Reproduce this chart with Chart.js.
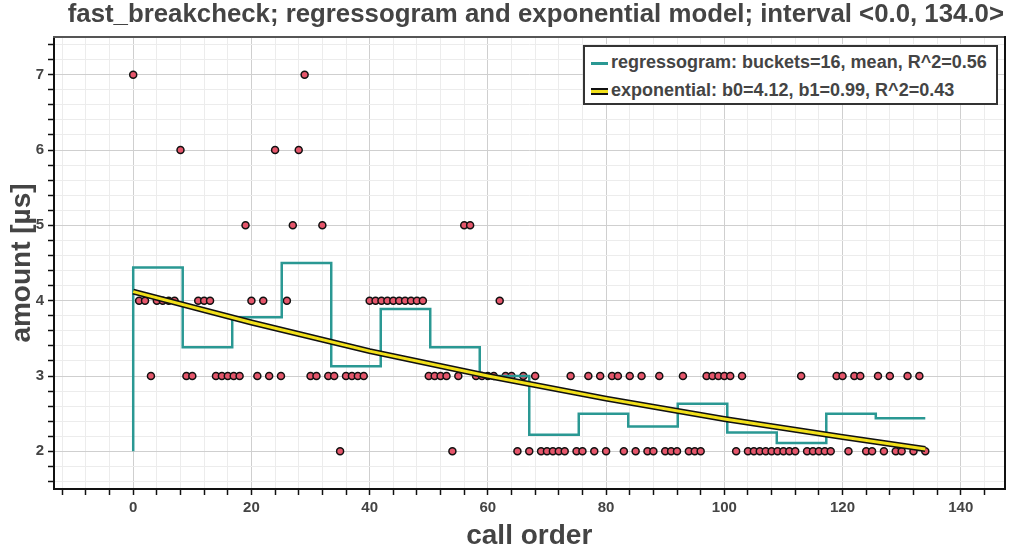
<!DOCTYPE html>
<html>
<head>
<meta charset="utf-8">
<script src="https://cdn.jsdelivr.net/npm/chart.js@4.4.1/dist/chart.umd.min.js"></script>
<style>
  body { margin: 0; background: #fff; }
  #wrap { position: relative; width: 1010px; height: 553px; font-family: "Liberation Sans", Arial, sans-serif; }
  #title { position: absolute; left: 0; width: 1010px; top: -1px; text-align: right; padding-right: 6px; box-sizing: border-box;
           font-size: 25.8px; font-weight: bold; color: #444; white-space: nowrap; }
  #legend { position: absolute; left: 583px; top: 45px; width: 415px; height: 60px; box-sizing: border-box;
            border: 2px solid #333; background: #fff; font-size: 18px; font-weight: bold; color: #444; }
  .row { position: absolute; left: 6px; height: 22px; line-height: 22px; white-space: nowrap; }
  .sw { display: inline-block; width: 17px; vertical-align: middle; margin-right: 3px; box-sizing: border-box; }
</style>
</head>
<body>
<div id="wrap">
  <canvas id="myChart" width="1010" height="553"></canvas>
  <div id="title">fast_breakcheck; regressogram and exponential model; interval &lt;0.0, 134.0&gt;</div>
  <div id="legend">
    <div class="row" style="top:4px"><span class="sw" style="height:3px;background:#2a9893"></span>regressogram: buckets=16, mean, R^2=0.56</div>
    <div class="row" style="top:32px"><span class="sw" style="height:7px;background:#f2e01a;border-top:2px solid #111;border-bottom:2px solid #111"></span>exponential: b0=4.12, b1=0.99, R^2=0.43</div>
  </div>
</div>
<script>
// measured amount for every call, call order = position in the list
let amounts = [
  7, 4, 4, 3, 4, 4, 4, 4, 6, 3,
  3, 4, 4, 4, 3, 3, 3, 3, 3, 5,
  4, 3, 4, 3, 6, 3, 4, 5, 6, 7,
  3, 3, 5, 3, 3, 2, 3, 3, 3, 3,
  4, 4, 4, 4, 4, 4, 4, 4, 4, 4,
  3, 3, 3, 3, 2, 3, 5, 5, 3, 3,
  3, 3, 4, 3, 3, 2, 3, 2, 3, 2,
  2, 2, 2, 2, 3, 2, 2, 3, 2, 3,
  2, 3, 3, 2, 3, 2, 3, 2, 2, 3,
  2, 2, 2, 3, 2, 2, 2, 3, 3, 3,
  3, 3, 2, 3, 2, 2, 2, 2, 2, 2,
  2, 2, 2, 3, 2, 2, 2, 2, 2, 3,
  3, 2, 3, 3, 2, 2, 3, 2, 3, 2,
  2, 3, 2, 3, 2
];

// regressogram: bucket edges and mean per bucket
let bucketEdges = [0, 8.375, 16.75, 25.125, 33.5, 41.875, 50.25, 58.625, 67, 75.375, 83.75, 92.125, 100.5, 108.875, 117.25, 125.625, 134];
let bucketMeans = [4.44, 3.38, 3.78, 4.5, 3.13, 3.89, 3.38, 3.0, 2.22, 2.5, 2.33, 2.63, 2.25, 2.11, 2.5, 2.44];
let regStart = 2;

// exponential model
let expX = [0, 20, 40, 60, 80, 100, 120, 134];
let expY = [4.12, 3.71, 3.33, 3.0, 2.7, 2.43, 2.19, 2.03];

let xTickLabels = [0, 20, 40, 60, 80, 100, 120, 140];
let yTickLabels = [2, 3, 4, 5, 6, 7];

let fontFam = '"Liberation Sans", Arial, sans-serif';

let points = amounts.map(function (v, i) { return {x: i, y: v}; });

let regData = [{x: bucketEdges[0], y: regStart}];
bucketMeans.forEach(function (m, i) { regData.push({x: bucketEdges[i], y: m}); });
regData.push({x: bucketEdges[bucketEdges.length - 1], y: bucketMeans[bucketMeans.length - 1]});

let expData = expX.map(function (x, i) { return {x: x, y: expY[i]}; });

function isWhole(v) { return Math.abs(v - Math.round(v)) < 1e-6; }

let ctx = document.getElementById('myChart').getContext('2d');
let chart = new Chart(ctx, {
  type: 'scatter',
  data: {
    datasets: [
      {
        label: 'exp yellow',
        data: expData,
        showLine: true,
        borderColor: '#f2e01a',
        borderWidth: 3,
        pointRadius: 0,
        order: 0
      },
      {
        label: 'exp outline',
        data: expData,
        showLine: true,
        borderColor: '#111',
        borderWidth: 6,
        pointRadius: 0,
        order: 1
      },
      {
        label: 'regressogram',
        data: regData,
        showLine: true,
        stepped: 'before',
        borderColor: '#2a9893',
        borderWidth: 2.5,
        pointRadius: 0,
        order: 2
      },
      {
        label: 'amount',
        data: points,
        backgroundColor: '#e5566b',
        borderColor: '#111',
        borderWidth: 1.5,
        pointRadius: 3.5,
        order: 3
      }
    ]
  },
  options: {
    responsive: false,
    animation: false,
    devicePixelRatio: 1,
    layout: {padding: {top: 37, right: 5, left: 0, bottom: 0}},
    plugins: {
      legend: {display: false},
      tooltip: {enabled: false},
      title: {display: false}
    },
    scales: {
      x: {
        type: 'linear',
        min: -13.4,
        max: 147.4,
        afterFit: function (s) { s.height = 64; },
        ticks: {
          stepSize: 4,
          includeBounds: false,
          autoSkip: false,
          maxRotation: 0,
          padding: 4,
          color: '#444',
          font: {family: fontFam, size: 15, weight: 'bold'},
          callback: function (v) { return xTickLabels.indexOf(v) >= 0 ? String(v) : ''; }
        },
        grid: {
          color: function (c) { return c.tick && c.tick.value % 20 === 0 ? '#cfcfcf' : '#ececec'; },
          tickColor: '#111',
          tickLength: 6,
          tickWidth: 1.5
        },
        border: {color: '#111', width: 2},
        title: {
          display: true,
          text: 'call order',
          color: '#444',
          font: {family: fontFam, size: 28, weight: 'bold'},
          padding: {top: 0, bottom: 0}
        }
      },
      y: {
        type: 'linear',
        min: 1.5,
        max: 7.5,
        afterFit: function (s) { s.width = 54; },
        // minor ticks every 0.2 between the padded bounds
        afterBuildTicks: function (s) {
          let t = [];
          for (let k = 8; k <= 37; k++) t.push({value: k / 5});
          s.ticks = t;
        },
        ticks: {
          autoSkip: false,
          padding: 4,
          color: '#444',
          font: {family: fontFam, size: 15, weight: 'bold'},
          callback: function (v) { return isWhole(v) && yTickLabels.indexOf(Math.round(v)) >= 0 ? String(Math.round(v)) : ''; }
        },
        grid: {
          color: function (c) { return c.tick && isWhole(c.tick.value) ? '#cfcfcf' : '#ececec'; },
          tickColor: '#111',
          tickLength: 6,
          tickWidth: 1.5
        },
        border: {color: '#111', width: 2},
        title: {
          display: true,
          text: 'amount [µs]',
          color: '#444',
          font: {family: fontFam, size: 28, weight: 'bold'},
          padding: {top: 5, bottom: 0}
        }
      },
      xTop: {
        type: 'linear',
        position: 'top',
        min: -13.4,
        max: 147.4,
        afterFit: function (s) { s.height = 0; },
        ticks: {display: false},
        grid: {display: false, drawTicks: false},
        border: {color: '#555', width: 2}
      },
      yRight: {
        type: 'linear',
        position: 'right',
        min: 1.5,
        max: 7.5,
        afterFit: function (s) { s.width = 0; },
        ticks: {display: false},
        grid: {display: false, drawTicks: false},
        border: {color: '#111', width: 2}
      }
    }
  }
});
</script>
</body>
</html>
